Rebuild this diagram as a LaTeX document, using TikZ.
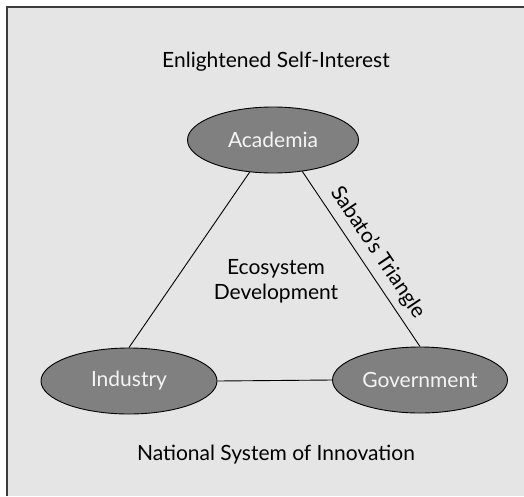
\documentclass[tikz,border=0pt]{standalone}
\usepackage{fontspec}
\setmainfont{Lato}
\usetikzlibrary{shapes.geometric}
\definecolor{bggray}{HTML}{E5E5E5}
\definecolor{framegray}{HTML}{3C3C3C}
\definecolor{ellfill}{HTML}{808080}
\definecolor{elltext}{HTML}{F4F4F4}
\tikzset{
  actor/.style={ellipse, draw=black, line width=0.9pt, fill=ellfill, inner sep=0pt,
    minimum height=66pt, text=elltext, font=\fontsize{21}{24}\selectfont},
  label/.style={font=\fontsize{21}{25}\selectfont, text=black, align=center},
  link/.style={draw=black, line width=0.9pt}
}
\begin{document}
\begin{tikzpicture}[x=1pt, y=-1pt]
  \useasboundingbox (0,0) rectangle (524,496);
  \fill[bggray] (6,6) rectangle (524,496);
  \draw[framegray, line width=2pt] (7,496) -- (7,7) -- (524,7);

  \node[label] (top) at (276,62) {Enlightened Self-Interest};
  \node[label] (bottom) at (276,455) {National System of Innovation};
  \node[label] (eco) at (276,281) {Ecosystem\\Development};

  \node[actor, minimum width=171pt] (aca) at (273,140) {Academia};
  \node[actor, minimum width=176pt] (ind) at (129,381) {Industry};
  \node[actor, minimum width=175pt] (gov) at (420,380) {Government};

  \draw[link] (aca.234) -- (ind.north);
  \draw[link] (aca.313) -- node[sloped, above=4pt, pos=0.52, font=\fontsize{21}{24}\selectfont] (sab) {Sabato’s Triangle} (gov.north);
  \draw[link] (ind.east) -- (gov.west);
\end{tikzpicture}
\end{document}
